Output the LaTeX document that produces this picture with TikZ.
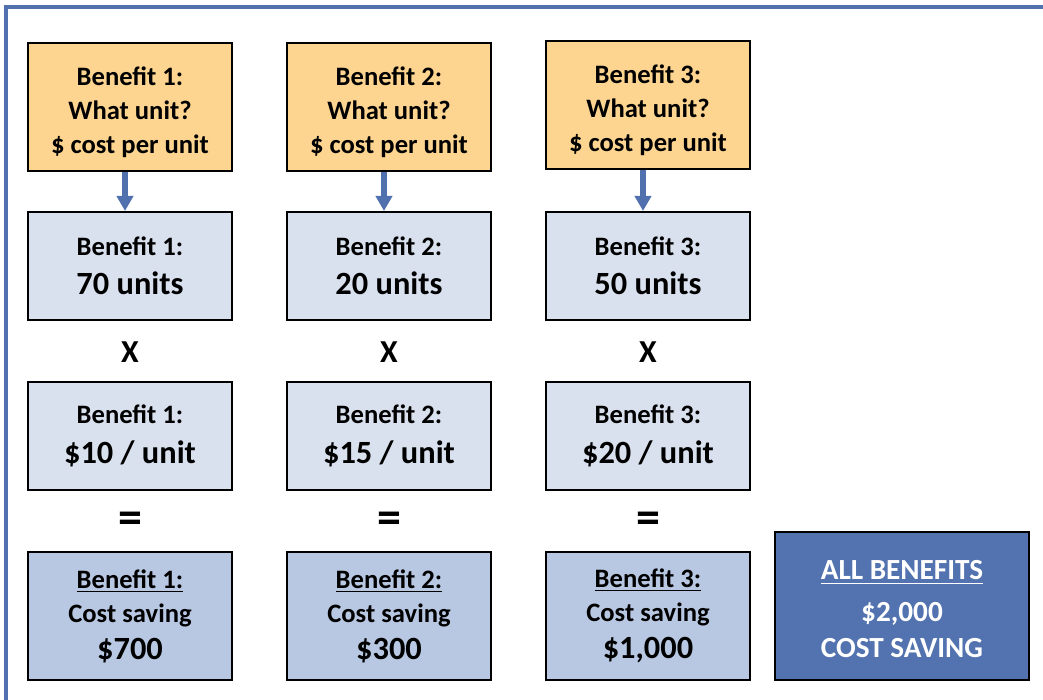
\documentclass[tikz,border=0pt]{standalone}
\usepackage{fontspec}
\setmainfont{Carlito}
\usepackage{xcolor}
\usetikzlibrary{arrows.meta}
\definecolor{askfill}{HTML}{FDD590}
\definecolor{unitfill}{HTML}{DAE1EE}
\definecolor{savefill}{HTML}{B8C8E2}
\definecolor{totalfill}{HTML}{5273AF}
\definecolor{framecol}{HTML}{5070AE}

\begin{document}
\begin{tikzpicture}[x=0.5pt,y=-0.5pt,
    box/.style={draw=black,line width=1pt,minimum width=102pt,align=center,
      font=\bfseries\fontsize{13.3}{17}\selectfont},
    ask/.style={box,fill=askfill,minimum height=64pt},
    units/.style={box,fill=unitfill,minimum height=54pt},
    save/.style={box,fill=savefill,minimum height=64pt},
    sign/.style={font=\bfseries\fontsize{16}{19}\selectfont},
    arr/.style={draw=framecol,line width=3pt,-{Triangle[length=7.5pt,width=8pt]}}]
  \useasboundingbox (0,0) rectangle (1043,700);
  % outer frame, runs off the page at right and bottom
  \draw[framecol,line width=1.6pt] (6,760) -- (6,7) -- (1100,7);

  \foreach \i/\x/\y/\u/\r/\s in {1/130/107/70/10/700, 2/389/107/20/15/300, 3/648/105/50/20/{1,000}} {
      \node (q\i) at (\x,\y) [ask] {\rule{0pt}{15pt}Benefit \i:\\What unit?\\\$ cost per unit};
      \node (n\i) at (\x,266) [units] {Benefit \i:\\[2.5pt]{\fontsize{16.2}{19}\selectfont \u\ units}};
      \node (x\i) at (\x,352) [sign] {X};
      \node (r\i) at (\x,436) [units] {Benefit \i:\\[3pt]{\fontsize{16.2}{19}\selectfont \$\r\ / unit}};
      \node (e\i) at (\x,523) [sign,font=\bfseries\fontsize{24}{26}\selectfont] {=};
      \node (s\i) at (\x,616) [save] {\underline{Benefit \i:}\\Cost saving\\[1.5pt]{\fontsize{16.2}{19}\selectfont \$\s}};
      \draw[arr] ([xshift=-2.5pt]q\i.south) -- ([xshift=-2.5pt]n\i.north);
  }

  \node (all) at (902,606) [box,fill=totalfill,text=white,minimum width=127pt,minimum height=74pt,
      font=\bfseries\fontsize{14.6}{18}\selectfont]
      {\rule{0pt}{13pt}\underline{ALL BENEFITS}\\[3pt]\$2,000\\COST SAVING};
\end{tikzpicture}
\end{document}
